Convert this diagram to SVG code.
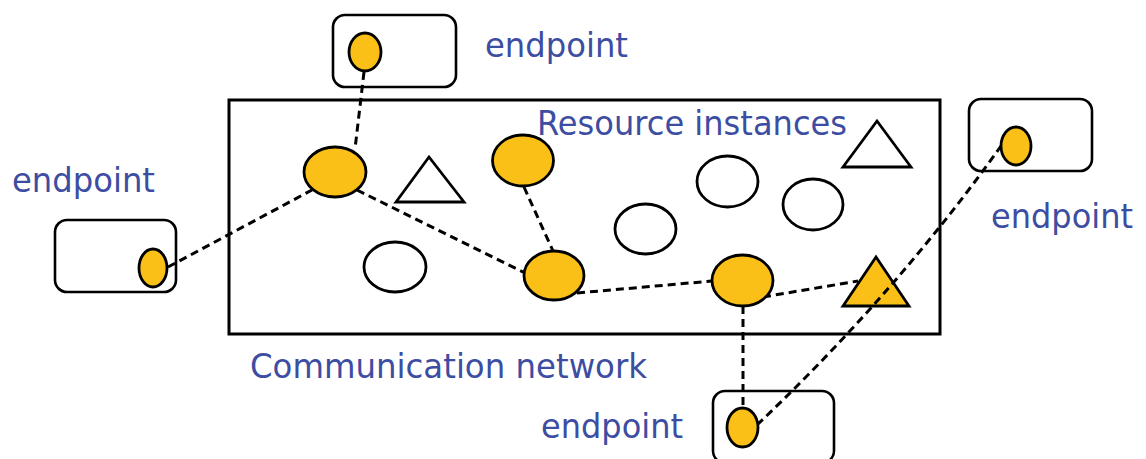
<svg xmlns="http://www.w3.org/2000/svg" width="1146" height="459" viewBox="0 0 1146 459">
<style>
.bg{fill:#ffffff}
.net{fill:none;stroke:#000;stroke-width:3}
.box{fill:none;stroke:#000;stroke-width:2.6}
.on{fill:#FAC018;stroke:#000;stroke-width:2.8}
.off{fill:#fff;stroke:#000;stroke-width:2.8}
.lbl{font-family:"DejaVu Sans","Liberation Sans",sans-serif;font-size:34px;fill:#3D4DA2}
.dash{fill:none;stroke:#000;stroke-width:3;stroke-dasharray:8 5}
</style>
<rect class="bg" x="0" y="0" width="1146" height="459"/>
<g id="network">
  <rect class="net" x="229" y="100" width="711" height="234"/>
  <text class="lbl" x="250" y="378" textLength="397" lengthAdjust="spacingAndGlyphs">Communication network</text>
  <text class="lbl" x="537" y="135" textLength="310" lengthAdjust="spacingAndGlyphs">Resource instances</text>
</g>
<g id="r11"><polygon class="on" points="876,257 843,306 909,306"/></g>
<g id="connectors">
  <line class="dash" x1="364" y1="72" x2="355" y2="149"/>
  <line class="dash" x1="168" y1="267" x2="312" y2="190"/>
  <line class="dash" x1="357" y1="190" x2="525" y2="273"/>
  <line class="dash" x1="524" y1="187" x2="553" y2="251"/>
  <line class="dash" x1="577" y1="293" x2="712" y2="281"/>
  <line class="dash" x1="763" y1="297" x2="858" y2="281"/>
  <line class="dash" x1="743" y1="306" x2="743" y2="408"/>
  <path class="dash" d="M757,425 Q896,293 1001,146"/>
</g>
<g id="endpoint-top">
  <rect class="box" x="333" y="15" width="123" height="72" rx="12"/>
  <ellipse class="on" cx="365" cy="52" rx="16" ry="19"/>
  <text class="lbl" x="485" y="57" textLength="143" lengthAdjust="spacingAndGlyphs">endpoint</text>
</g>
<g id="endpoint-left">
  <rect class="box" x="55" y="220" width="121" height="72" rx="12"/>
  <ellipse class="on" cx="153" cy="268" rx="14" ry="19"/>
  <text class="lbl" x="12" y="192" textLength="143" lengthAdjust="spacingAndGlyphs">endpoint</text>
</g>
<g id="endpoint-right">
  <rect class="box" x="969" y="99" width="123" height="72" rx="12"/>
  <ellipse class="on" cx="1016" cy="146" rx="15" ry="19"/>
  <text class="lbl" x="991" y="228" textLength="142" lengthAdjust="spacingAndGlyphs">endpoint</text>
</g>
<g id="endpoint-bottom">
  <rect class="box" x="713" y="391" width="121" height="72" rx="12"/>
  <ellipse class="on" cx="742.5" cy="427.5" rx="15.5" ry="19.5"/>
  <text class="lbl" x="541" y="438" textLength="142" lengthAdjust="spacingAndGlyphs">endpoint</text>
</g>
<g id="r1"><ellipse class="on" cx="335" cy="172" rx="31" ry="25"/></g>
<g id="r2"><polygon class="off" points="429,157 396,202 464,202"/></g>
<g id="r3"><ellipse class="on" cx="523" cy="160.5" rx="30.5" ry="25.5"/></g>
<g id="r4"><ellipse class="off" cx="395" cy="267" rx="31" ry="25"/></g>
<g id="r5"><ellipse class="on" cx="554" cy="275.5" rx="30" ry="24.5"/></g>
<g id="r6"><ellipse class="off" cx="645.5" cy="229" rx="30.5" ry="25"/></g>
<g id="r7"><ellipse class="off" cx="727.5" cy="181.5" rx="30.5" ry="25.5"/></g>
<g id="r8"><ellipse class="off" cx="813" cy="204.5" rx="30" ry="25.5"/></g>
<g id="r9"><ellipse class="on" cx="742.5" cy="280.5" rx="30.5" ry="25.5"/></g>
<g id="r10"><polygon class="off" points="877,121 843,167 911,167"/></g>
</svg>
